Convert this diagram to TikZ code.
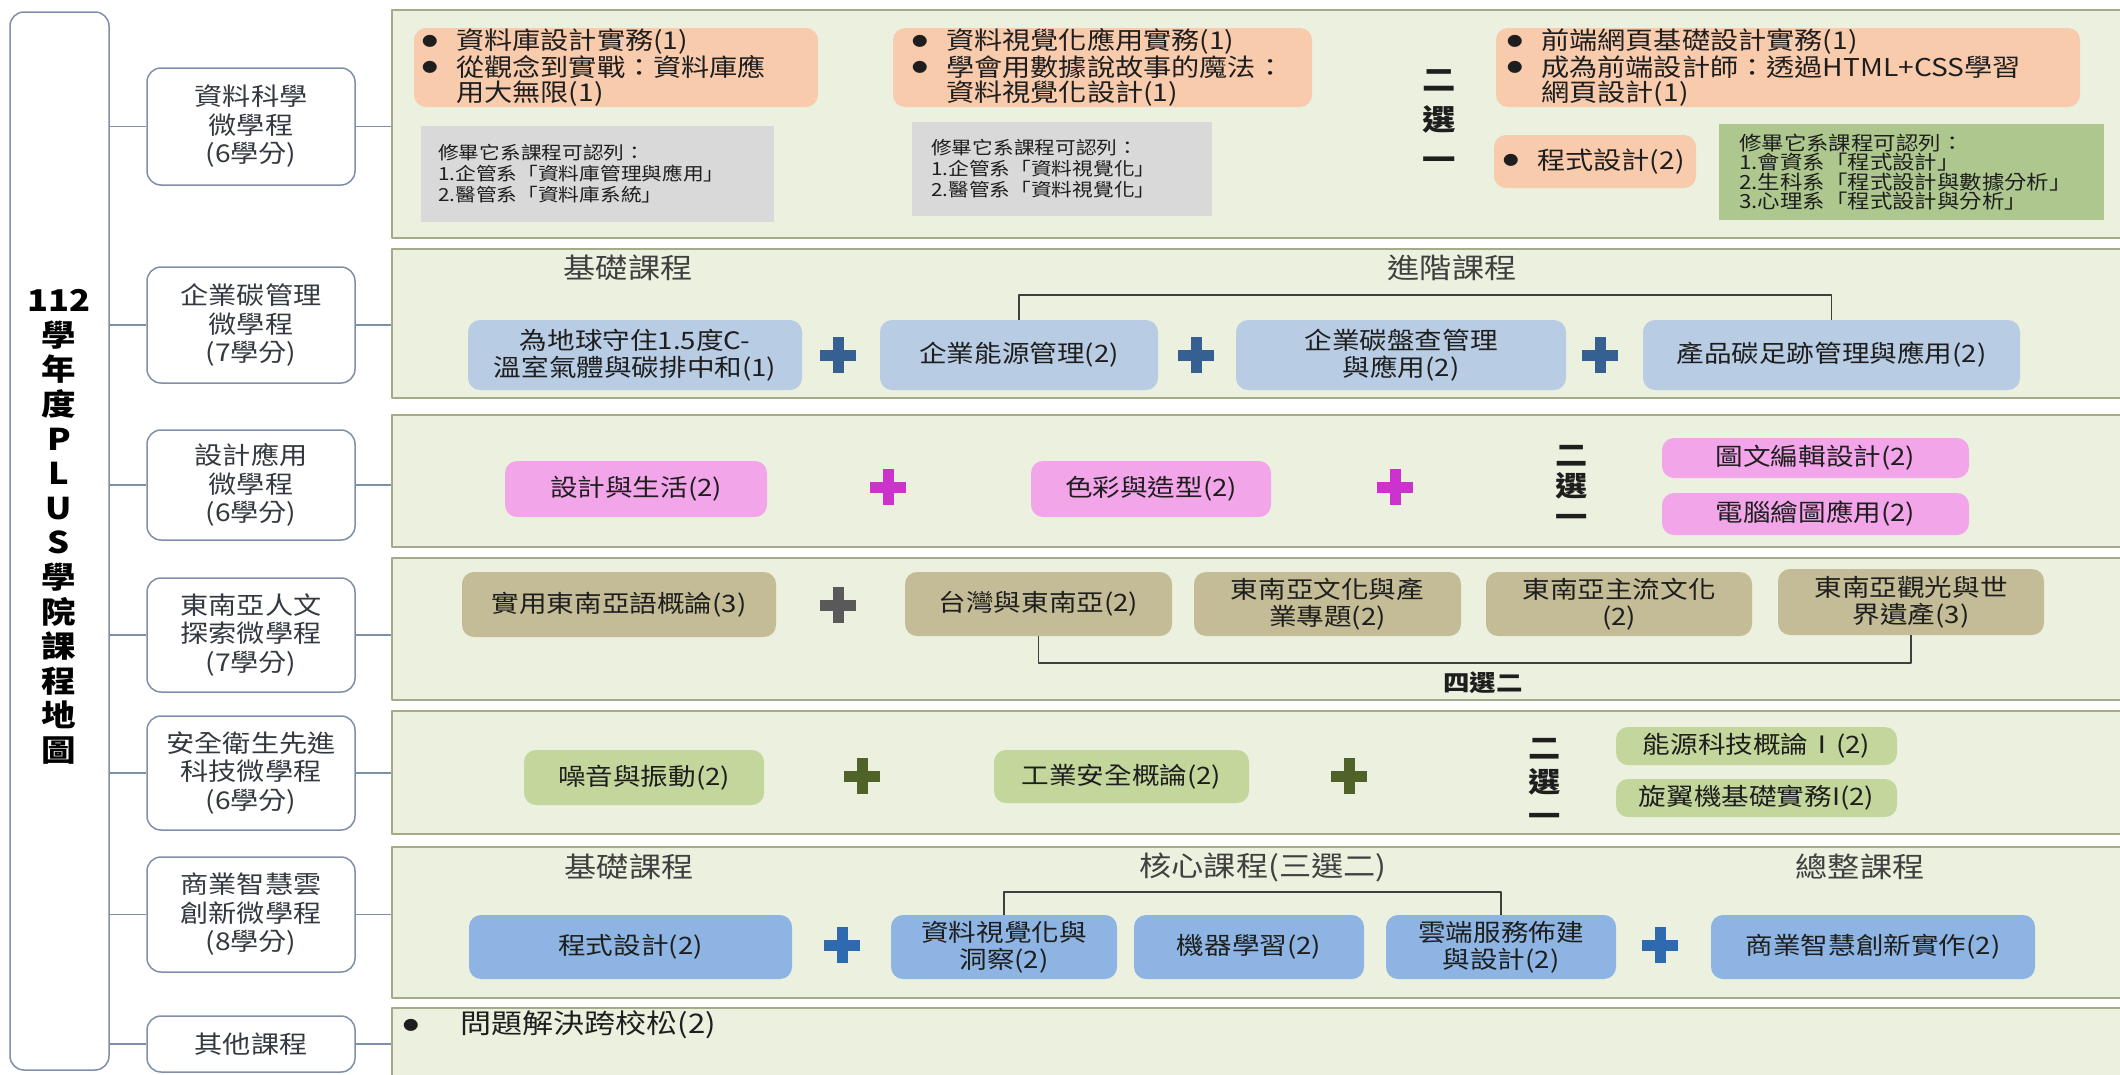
\documentclass[tikz,border=0pt]{standalone}
\usepackage{fontspec}
\setmainfont{Noto Sans CJK TC}[FakeStretch=1.15]
\definecolor{panelfill}{HTML}{EBF1DE}
\definecolor{panelline}{HTML}{A4AB88}
\definecolor{catline}{HTML}{7F8FA9}
\definecolor{cattext}{HTML}{333940}
\definecolor{txt}{HTML}{1E1E1E}
\definecolor{labtext}{HTML}{404040}
\definecolor{brk}{HTML}{3F3F3F}
\definecolor{orangec}{HTML}{F8CBAD}
\definecolor{grayc}{HTML}{D9D9D9}
\definecolor{greenc}{HTML}{ADC78E}
\definecolor{blueA}{HTML}{B8CCE4}
\definecolor{blueB}{HTML}{8DB4E2}
\definecolor{pinkc}{HTML}{F3A5E9}
\definecolor{tanc}{HTML}{C4BC96}
\definecolor{olivec}{HTML}{C3D69B}
\definecolor{plusA}{HTML}{376092}
\definecolor{plusB}{HTML}{CC33CC}
\definecolor{plusC}{HTML}{595959}
\definecolor{plusD}{HTML}{4F6228}
\definecolor{plusE}{HTML}{2F6AAE}
\newcommand\myfs[2]{\fontsize{#1}{#2}\selectfont}
\newcommand\bul[1][34pt]{\makebox[#1][l]{\raisebox{3.5pt}{\myfs{13.5}{13.5}●}}}
\newcommand\rbx[7]{\node[#1, minimum width={#5-#3}, minimum height={#6-#4}] (#2) at ({(#3+#5)/2},{(#4+#6)/2}) {#7};}
\tikzset{
  panel/.style={draw=panelline, fill=panelfill, line width=1.5pt, inner sep=0pt},
  catbox/.style={draw=catline, fill=white, line width=1.5pt, rounded corners=14pt, align=center, inner sep=0pt, text=cattext, font=\myfs{24.5}{28.5}},
  leftbox/.style={draw=catline, fill=white, line width=1.5pt, rounded corners=14pt, inner sep=0pt},
  conn/.style={draw=catline, line width=1.5pt},
  cbox/.style={rounded corners=12pt, align=center, inner sep=0pt, text=txt, font=\myfs{24}{27}},
  obox/.style={fill=orangec, rounded corners=12pt, inner sep=0pt},
  gbox/.style={fill=grayc, inner sep=0pt},
  greenbox/.style={fill=greenc, inner sep=0pt},
  btext/.style={anchor=west, align=left, inner sep=0pt, text=txt, font=\myfs{24.5}{25}},
  ntext/.style={anchor=west, align=left, inner sep=0pt, text=txt, font=\myfs{18}{21}},
  lab/.style={text=labtext, font=\myfs{28}{30}, inner sep=0pt},
  choose/.style={font={\bfseries\myfs{28}{31}}, align=center, inner sep=0pt, text=txt},
  bracket/.style={draw=brk, line width=1.5pt},
  plusmark/.style={minimum size=36pt, inner sep=0pt, path picture={
    \fill[#1] ([xshift=-5.5pt]path picture bounding box.north) rectangle ([xshift=5.5pt]path picture bounding box.south);
    \fill[#1] ([yshift=-5.5pt]path picture bounding box.west) rectangle ([yshift=5.5pt]path picture bounding box.east);}},
  titletext/.style={font={\bfseries\myfs{30}{34.6}}, align=center, inner sep=0pt, text=black}
}
\begin{document}
\begin{tikzpicture}[x=1pt,y=-1pt,line join=round]
\useasboundingbox (0,0) rectangle (2120,1074);
\fill[white] (0,0) rectangle (2120,1074);
% panels
\rbx{panel}{p1}{392}{10}{2145}{238}{}
\rbx{panel}{p2}{392}{249}{2145}{398}{}
\rbx{panel}{p3}{392}{415}{2145}{547}{}
\rbx{panel}{p4}{392}{558}{2145}{700}{}
\rbx{panel}{p5}{392}{711}{2145}{834}{}
\rbx{panel}{p6}{392}{847}{2145}{998}{}
\rbx{panel}{p7}{392}{1008}{2145}{1095}{}
% left box
\rbx{leftbox}{lb}{10}{12}{109}{1070}{}
\node[titletext] (title) at (59,527) {112\\學\\年\\度\\P\\L\\U\\S\\學\\院\\課\\程\\地\\圖};
% category boxes
\rbx{catbox}{c1}{147}{68}{355}{185}{資料科學\\微學程\\(6學分)}
\rbx{catbox}{c2}{147}{267}{355}{383}{企業碳管理\\微學程\\(7學分)}
\rbx{catbox}{c3}{147}{430}{355}{540}{設計應用\\微學程\\(6學分)}
\rbx{catbox}{c4}{147}{578}{355}{692}{東南亞人文\\探索微學程\\(7學分)}
\rbx{catbox}{c5}{147}{716}{355}{830}{安全衛生先進\\科技微學程\\(6學分)}
\rbx{catbox}{c6}{147}{857}{355}{972}{商業智慧雲\\創新微學程\\(8學分)}
\rbx{catbox}{c7}{147}{1016}{355}{1072}{其他課程}
\foreach \c/\p in {c1/p1,c2/p2,c3/p3,c4/p4,c5/p5,c6/p6,c7/p7}{
  \draw[conn] (lb.east |- \c.west) -- (\c.west);
  \draw[conn] (\c.east) -- (\c.east -| \p.west);
}
% row 1
\rbx{obox}{oA}{414}{28}{818}{107}{}
\node[btext] (tA) at (422,67.5) {\bul 資料庫設計實務(1)\\\bul 從觀念到實戰：資料庫應\\\hspace*{34pt}用大無限(1)};
\rbx{gbox}{gA}{421}{126}{774}{222}{}
\node[ntext] (tgA) at (438,174) {修畢它系課程可認列：\\1.企管系「資料庫管理與應用」\\2.醫管系「資料庫系統」};
\rbx{obox}{oB}{893}{28}{1312}{107}{}
\node[btext] (tB) at (912,67.5) {\bul 資料視覺化應用實務(1)\\\bul 學會用數據說故事的魔法：\\\hspace*{34pt}資料視覺化設計(1)};
\rbx{gbox}{gB}{912}{122}{1212}{216}{}
\node[ntext] (tgB) at (931,169) {修畢它系課程可認列：\\1.企管系「資料視覺化」\\2.醫管系「資料視覺化」};
\node[choose, font={\bfseries\myfs{29}{40}}] (ch1) at (1439,120) {二\\選\\一};
\rbx{obox}{oC}{1496}{28}{2080}{107}{}
\node[btext] (tC) at (1507,67.5) {\bul 前端網頁基礎設計實務(1)\\\bul 成為前端設計師：透過HTML+CSS學習\\\hspace*{34pt}網頁設計(1)};
\rbx{obox}{oD}{1494}{135}{1696}{188}{}
\node[btext] (tD) at (1503,161.5) {\bul 程式設計(2)};
\rbx{greenbox}{gC}{1719}{124}{2104}{220}{}
\node[ntext, font=\myfs{19.5}{19.5}] (tgC) at (1739,172) {修畢它系課程可認列：\\1.會資系「程式設計」\\2.生科系「程式設計與數據分析」\\3.心理系「程式設計與分析」};
% row 2
\node[lab] (l2a) at (628,268) {基礎課程};
\node[lab] (l2b) at (1452,268) {進階課程};
\rbx{cbox, fill=blueA}{b21}{468}{320}{802}{390}{為地球守住1.5度C-\\溫室氣體與碳排中和(1)}
\node[plusmark=plusA] (x21) at (838,355) {};
\rbx{cbox, fill=blueA}{b22}{880}{320}{1158}{390}{企業能源管理(2)}
\node[plusmark=plusA] (x22) at (1196,355) {};
\rbx{cbox, fill=blueA}{b23}{1236}{320}{1566}{390}{企業碳盤查管理\\與應用(2)}
\node[plusmark=plusA] (x23) at (1600,355) {};
\rbx{cbox, fill=blueA}{b24}{1643}{320}{2020}{390}{產品碳足跡管理與應用(2)}
\draw[bracket] (b22.north) -- ++(0,-25) -| (b24.north);
% row 3
\rbx{cbox, fill=pinkc}{b31}{505}{461}{767}{517}{設計與生活(2)}
\node[plusmark=plusB] (x31) at (888,487) {};
\rbx{cbox, fill=pinkc}{b32}{1031}{461}{1271}{517}{色彩與造型(2)}
\node[plusmark=plusB] (x32) at (1395,487) {};
\node[choose] (ch3) at (1572,486) {二\\選\\一};
\rbx{cbox, fill=pinkc}{b33}{1662}{438}{1969}{478}{圖文編輯設計(2)}
\rbx{cbox, fill=pinkc}{b34}{1662}{493}{1969}{535}{電腦繪圖應用(2)}
% row 4
\rbx{cbox, fill=tanc}{b41}{462}{572}{776}{637}{實用東南亞語概論(3)}
\node[plusmark=plusC] (x41) at (838,605) {};
\rbx{cbox, fill=tanc}{b42}{905}{572}{1172}{636}{台灣與東南亞(2)}
\rbx{cbox, fill=tanc}{b43}{1194}{572}{1461}{636}{東南亞文化與產\\業專題(2)}
\rbx{cbox, fill=tanc}{b44}{1486}{572}{1752}{636}{東南亞主流文化\\(2)}
\rbx{cbox, fill=tanc}{b45}{1778}{569}{2044}{635}{東南亞觀光與世\\界遺產(3)}
\draw[bracket] (b42.south) -- ++(0,27) -| (b45.south);
\node[font={\bfseries\myfs{23}{25}}, text=txt, inner sep=0pt] (l4) at (1483,683) {四選二};
% row 5
\rbx{cbox, fill=olivec}{b51}{524}{750}{764}{805}{噪音與振動(2)}
\node[plusmark=plusD] (x51) at (862,776) {};
\rbx{cbox, fill=olivec}{b52}{994}{750}{1249}{803}{工業安全概論(2)}
\node[plusmark=plusD] (x52) at (1349,776) {};
\node[choose, font={\bfseries\myfs{28}{34}}] (ch5) at (1545,782) {二\\選\\一};
\rbx{cbox, fill=olivec}{b53}{1616}{727}{1897}{765}{能源科技概論Ⅰ(2)}
\rbx{cbox, fill=olivec}{b54}{1616}{779}{1897}{817}{旋翼機基礎實務I(2)}
% row 6
\node[lab] (l6a) at (629,867) {基礎課程};
\node[lab] (l6b) at (1263,867) {核心課程(三選二)};
\node[lab] (l6c) at (1860,867) {總整課程};
\rbx{cbox, fill=blueB}{b61}{469}{915}{792}{979}{程式設計(2)}
\node[plusmark=plusE] (x61) at (842,945) {};
\rbx{cbox, fill=blueB}{b62}{891}{915}{1117}{979}{資料視覺化與\\洞察(2)}
\rbx{cbox, fill=blueB}{b63}{1134}{915}{1364}{979}{機器學習(2)}
\rbx{cbox, fill=blueB}{b64}{1386}{915}{1616}{979}{雲端服務佈建\\與設計(2)}
\node[plusmark=plusE] (x62) at (1660,945) {};
\rbx{cbox, fill=blueB}{b65}{1711}{915}{2035}{979}{商業智慧創新實作(2)}
\draw[bracket] (b62.north) -- ++(0,-23) -| (b64.north);
% row 7
\node[btext, font=\myfs{27}{29}] (t7) at (403,1025) {\bul[50pt] 問題解決跨校松(2)};
\end{tikzpicture}
\end{document}
